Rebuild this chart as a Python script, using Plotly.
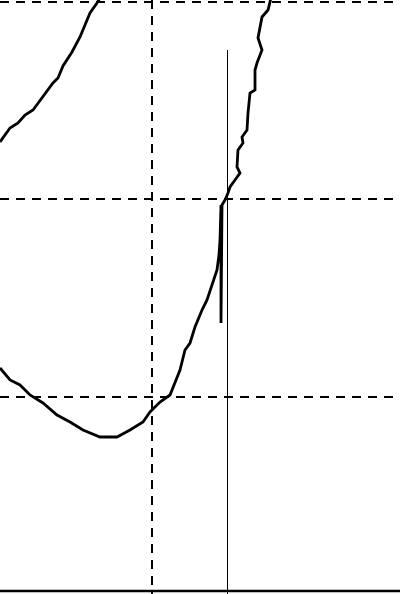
import plotly.graph_objects as go

# Curve A (upper-left branch), x / y in chart units (y grows downward)
curve_a_x = [0, 10, 18, 25, 33, 43, 53, 58, 63, 72, 80, 85, 90, 97, 100]
curve_a_y = [142, 128, 123, 115, 110, 97, 83, 78, 66, 52, 37, 25, 13, 3, -2]

# Curve B (U-shaped branch with spike)
curve_b_x = [0, 10, 20, 30, 43, 57, 70, 83, 100, 117, 130, 143, 150, 160, 170, 173, 180, 185, 190,
             195, 202, 207, 213, 217, 219, 220, 221, 221, 222, 225, 228, 230, 235, 240, 237, 238,
             243, 242, 247, 248, 250, 255, 255, 257, 262, 258, 262, 268, 271]
curve_b_y = [368, 380, 385, 395, 403, 415, 422, 430, 437, 437, 430, 422, 412, 402, 395, 387, 370, 350, 343,
             327, 310, 300, 283, 270, 255, 240, 205, 323, 205, 200, 193, 187, 180, 173, 167, 150,
             143, 137, 130, 113, 93, 90, 70, 63, 50, 38, 17, 10, -2]

# Event marker line
event_x = [227.5, 227.5]
event_y = [50, 600]

# Grid positions
x_grid = [152]
y_grid = [2, 199, 397]

fig = go.Figure()
fig.add_trace(go.Scatter(x=curve_a_x, y=curve_a_y, mode="lines",
                         line=dict(color="black", width=2.8), hoverinfo="skip"))
fig.add_trace(go.Scatter(x=curve_b_x, y=curve_b_y, mode="lines",
                         line=dict(color="black", width=2.8), hoverinfo="skip"))
fig.add_trace(go.Scatter(x=event_x, y=event_y, mode="lines",
                         line=dict(color="black", width=1), hoverinfo="skip"))

fig.update_layout(
    width=400, height=594,
    margin=dict(l=0, r=0, t=0, b=0),
    paper_bgcolor="white", plot_bgcolor="white",
    showlegend=False,
    xaxis=dict(range=[0, 400], tickvals=x_grid, showticklabels=False, ticks="",
               showgrid=True, gridcolor="black", gridwidth=2, griddash="9px,7px",
               zeroline=False, showline=False, fixedrange=True),
    yaxis=dict(range=[594, 0], tickvals=y_grid, showticklabels=False, ticks="",
               showgrid=True, gridcolor="black", gridwidth=2, griddash="9px,7px",
               zeroline=False, showline=False, fixedrange=True),
)
fig.add_shape(type="line", xref="paper", x0=0, x1=1, yref="y", y0=591, y1=591,
              line=dict(color="black", width=2.5))

fig.write_html("out.html")
